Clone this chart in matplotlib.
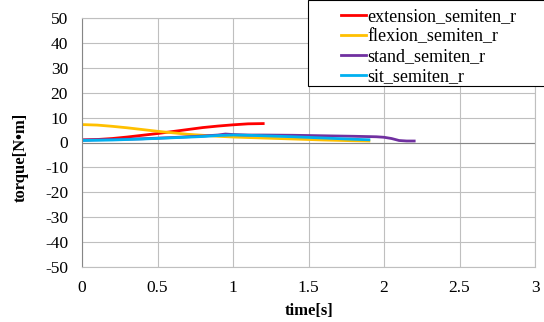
import numpy as np
import matplotlib.pyplot as plt
from matplotlib.patches import Rectangle

plt.rcParams["font.family"] = ["Liberation Serif", "DejaVu Serif"]
plt.rcParams["axes.unicode_minus"] = False

ext_t = [0, 0.1, 0.2, 0.3, 0.4, 0.5, 0.6, 0.7, 0.8, 0.9, 1.0, 1.1, 1.2]
ext_v = [1.0, 1.2, 1.6, 2.2, 2.9, 3.6, 4.4, 5.2, 6.0, 6.6, 7.1, 7.5, 7.6]

flex_t = [0, 0.1, 0.2, 0.3, 0.4, 0.5, 0.6, 0.7, 0.8, 0.9, 1.0, 1.2, 1.4, 1.6, 1.8, 1.9]
flex_v = [7.2, 7.0, 6.5, 5.9, 5.2, 4.5, 3.9, 3.3, 2.9, 2.5, 2.2, 1.8, 1.4, 1.0, 0.7, 0.6]

stand_t = [0, 0.2, 0.4, 0.6, 0.8, 0.9, 0.95, 1.0, 1.1, 1.2, 1.4, 1.6, 1.8, 1.95, 2.0, 2.05, 2.1, 2.15, 2.2]
stand_v = [1.0, 1.2, 1.5, 2.0, 2.6, 3.0, 3.4, 3.2, 3.0, 3.0, 2.9, 2.7, 2.5, 2.3, 2.1, 1.6, 0.8, 0.6, 0.6]

sit_t = [0, 0.2, 0.4, 0.6, 0.8, 0.9, 1.0, 1.1, 1.2, 1.4, 1.6, 1.8, 1.9]
sit_v = [0.8, 1.0, 1.4, 1.9, 2.4, 2.8, 3.0, 2.9, 2.7, 2.3, 1.8, 1.3, 1.1]

series = [
    ("extension_semiten_r", ext_t, ext_v, "#ff0000"),
    ("flexion_semiten_r", flex_t, flex_v, "#ffc000"),
    ("stand_semiten_r", stand_t, stand_v, "#7030a0"),
    ("sit_semiten_r", sit_t, sit_v, "#00b0f0"),
]

W, H = 544, 322
fig = plt.figure(figsize=(W / 100, H / 100), dpi=100)
ax = fig.add_axes([82 / W, 1 - 267 / H, (535 - 82) / W, (267 - 18) / H])

for name, t, v, c in series:
    ax.plot(t, v, color=c, lw=2, label=name)

ax.set_xlim(0, 3)
ax.set_ylim(-50, 50)
ax.set_xticks(np.arange(0, 3.01, 0.5))
ax.set_xticklabels(["0", "0.5", "1", "1.5", "2", "2.5", "3"])
ax.set_yticks(np.arange(-50, 51, 10))
ax.grid(True, color="#bfbfbf", lw=0.8)
ax.axhline(0, color="#868686", lw=0.8)
ax.tick_params(length=0, labelsize=12.5)
ax.tick_params(axis="y", pad=10)
ax.tick_params(axis="x", pad=9)
for s in ax.spines.values():
    s.set_color("#bfbfbf")
ax.spines["left"].set_color("#868686")
ax.set_xlabel("time[s]", fontsize=12, fontweight="bold")
ax.xaxis.set_label_coords((309 - 82) / (535 - 82), -(303 - 267) / (267 - 18))
ax.set_ylabel("torque[N\u2022m]", fontsize=12, fontweight="bold")
ax.yaxis.set_label_coords(-(82 - 29) / (535 - 82), (267 - 157) / (267 - 18))

# legend frame runs past the right edge, as in the original
fig.patches.append(Rectangle((308 / W, 1 - 86 / H), 0.5, 86 / H, transform=fig.transFigure,
                             facecolor="white", edgecolor="black", lw=0.8, zorder=5))
leg = fig.legend(loc="upper left", bbox_to_anchor=(341 / W, 1 - 8 / H), fontsize=13,
                 handlelength=1.4, handletextpad=0.05, borderaxespad=0,
                 labelspacing=0.17, borderpad=0, frameon=False)
leg.set_zorder(6)

fig.savefig("out.png", dpi=100)
